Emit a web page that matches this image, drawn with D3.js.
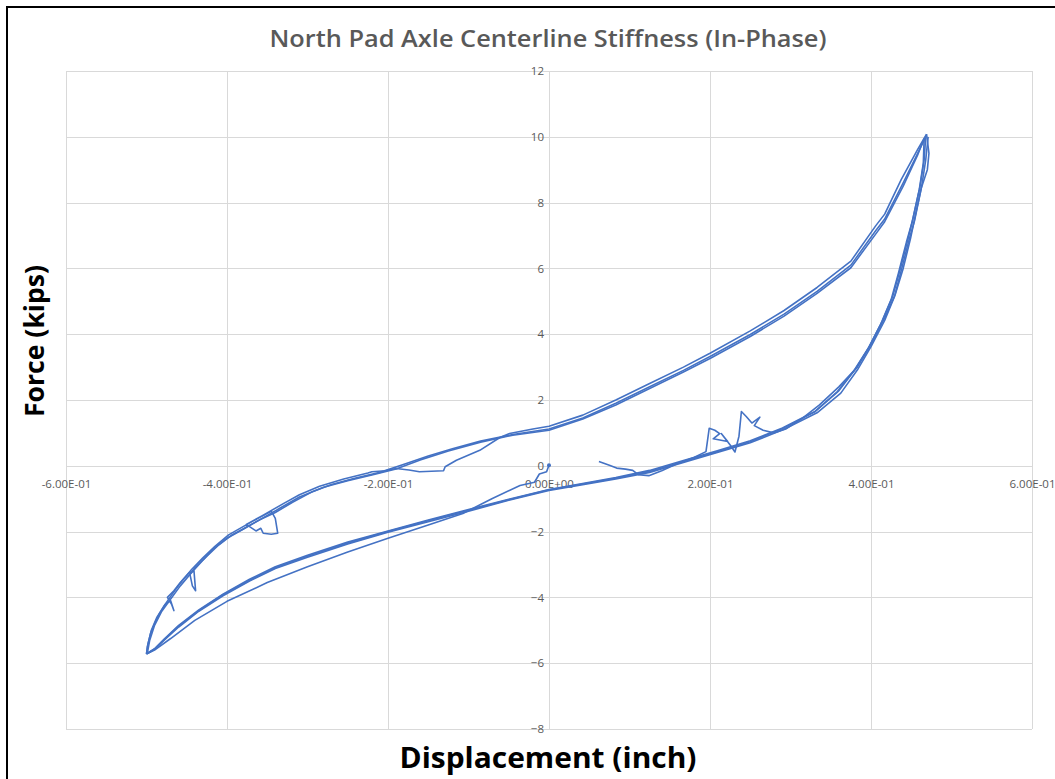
<!DOCTYPE html>
<html>
<head>
<meta charset="utf-8">
<script src="https://cdn.jsdelivr.net/npm/d3@7/dist/d3.min.js"></script>
<style>
  body { margin: 0; background: #fff; }
  .grid line { stroke: #d9d9d9; shape-rendering: crispEdges; }
  .grid path { display: none; }
  .ticks text { fill: #595959; font-family: "Open Sans", sans-serif; font-size: 11.5px; }
  .ticks path, .ticks line { display: none; }
</style>
</head>
<body>
<div id="chart"></div>
<script>
const xTicks = [-0.6, -0.4, -0.2, 0, 0.2, 0.4, 0.6];
const xTickLabels = ["-6.00E-01", "-4.00E-01", "-2.00E-01", "0.00E+00", "2.00E-01", "4.00E-01", "6.00E-01"];
const yTicks = [-8, -6, -4, -2, 0, 2, 4, 6, 8, 10, 12];

// each run is [displacement (inch), force (kips)]
const rightStart = [[0.062,0.13],[0.075,0.02],[0.084,-0.07],[0.095,-0.1],[0.104,-0.14],[0.111,-0.27],[0.124,-0.3],
  [0.14,-0.15],[0.159,0.06],[0.18,0.25],[0.195,0.43],[0.199,1.14],[0.206,1.08],[0.212,0.98],[0.204,0.82],[0.222,0.74],
  [0.214,0.98],[0.226,0.6],[0.231,0.42],[0.236,0.9],[0.239,1.65],[0.245,1.5],[0.252,1.3],[0.262,1.48],[0.255,1.22],
  [0.266,1.08],[0.279,1.0],[0.294,1.12],[0.315,1.45],[0.336,1.85],[0.36,2.4],[0.383,3.0],[0.4,3.7],[0.417,4.5],
  [0.43,5.2],[0.44,6.0],[0.449,6.9],[0.455,7.6],[0.463,8.5],[0.468,9.3],[0.471,10.0]];

const startPath = [[0,0.02],[-0.003,-0.18],[-0.012,-0.25],[-0.018,-0.5],[-0.036,-0.6],[-0.071,-1.0],[-0.107,-1.45],
  [-0.15,-1.8],[-0.2,-2.2],[-0.25,-2.62],[-0.3,-3.07],[-0.35,-3.55],[-0.4,-4.12],[-0.44,-4.7],[-0.47,-5.25],
  [-0.49,-5.6],[-0.5,-5.72]];

const loadOne = [[-0.5,-5.72],[-0.498,-5.4],[-0.494,-5.0],[-0.487,-4.6],[-0.478,-4.25],[-0.468,-3.9],[-0.456,-3.5],
  [-0.444,-3.15],[-0.43,-2.8],[-0.415,-2.45],[-0.398,-2.1],[-0.38,-1.85],[-0.362,-1.6],[-0.345,-1.38],[-0.34,-1.6],
  [-0.337,-2.05],[-0.345,-2.08],[-0.355,-2.05],[-0.358,-1.9],[-0.364,-1.98],[-0.372,-1.85],[-0.376,-1.78],
  [-0.355,-1.5],[-0.33,-1.15],[-0.31,-0.88],[-0.285,-0.62],[-0.255,-0.4],[-0.225,-0.22],[-0.22,-0.18],
  [-0.203,-0.15],[-0.19,-0.08],[-0.174,-0.13],[-0.161,-0.18],[-0.131,-0.15],[-0.129,-0.03],[-0.115,0.17],
  [-0.086,0.47],[-0.061,0.86],[-0.049,0.98],[-0.02,1.12],[0,1.2],[0.042,1.54],[0.083,2.0],[0.125,2.5],
  [0.167,3.0],[0.2,3.42],[0.25,4.1],[0.292,4.72],[0.333,5.42],[0.375,6.22],[0.406,7.3],[0.417,7.65],
  [0.4375,8.7],[0.458,9.62],[0.469,10.08]];

const unloadOne = [[0.469,10.08],[0.472,9.5],[0.47,9.0],[0.4625,8.44],[0.454,7.44],[0.448,6.93],[0.4375,5.93],
  [0.429,5.13],[0.417,4.42],[0.4,3.62],[0.383,2.91],[0.3625,2.21],[0.333,1.61],[0.292,1.11],[0.25,0.7],
  [0.208,0.4],[0.167,0.1],[0.125,-0.2],[0.083,-0.4],[0.04,-0.58],[0,-0.75],[-0.05,-1.05],[-0.1,-1.38],
  [-0.15,-1.7],[-0.2,-2.02],[-0.25,-2.38],[-0.3,-2.78],[-0.34,-3.12],[-0.372,-3.5],[-0.405,-3.95],
  [-0.435,-4.42],[-0.46,-4.9],[-0.478,-5.3],[-0.49,-5.58],[-0.5,-5.72]];

const loadTwo = [[-0.5,-5.72],[-0.499,-5.5],[-0.495,-5.1],[-0.49,-4.8],[-0.484,-4.5],[-0.477,-4.22],[-0.47,-4.1],
  [-0.466,-4.4],[-0.469,-4.2],[-0.474,-4.0],[-0.466,-3.8],[-0.458,-3.55],[-0.447,-3.25],[-0.441,-3.2],
  [-0.439,-3.8],[-0.443,-3.65],[-0.446,-3.3],[-0.44,-3.1],[-0.425,-2.75],[-0.41,-2.4],[-0.395,-2.12],
  [-0.38,-1.92],[-0.36,-1.65],[-0.34,-1.42],[-0.318,-1.1],[-0.295,-0.8],[-0.27,-0.57],[-0.24,-0.37],
  [-0.21,-0.2],[-0.18,0.05],[-0.15,0.3],[-0.12,0.52],[-0.085,0.75],[-0.045,0.95],[0,1.12],[0.042,1.45],
  [0.083,1.9],[0.125,2.4],[0.167,2.9],[0.2,3.32],[0.25,3.99],[0.292,4.61],[0.333,5.3],[0.375,6.1],
  [0.406,7.15],[0.417,7.5],[0.44,8.6],[0.458,9.5],[0.468,10.0]];

const unloadTwo = [[0.468,10.0],[0.466,9.3],[0.461,8.5],[0.452,7.5],[0.446,6.9],[0.436,5.95],[0.427,5.15],
  [0.414,4.4],[0.398,3.62],[0.381,2.95],[0.36,2.28],[0.331,1.66],[0.29,1.15],[0.25,0.76],[0.208,0.45],
  [0.167,0.16],[0.125,-0.14],[0.083,-0.36],[0.04,-0.55],[0,-0.72],[-0.05,-1.02],[-0.1,-1.33],[-0.15,-1.65],
  [-0.2,-1.98],[-0.25,-2.32],[-0.3,-2.72],[-0.34,-3.07],[-0.372,-3.45],[-0.405,-3.9],[-0.435,-4.38],
  [-0.46,-4.85],[-0.478,-5.27],[-0.49,-5.56],[-0.499,-5.7]];

const loadThree = [[-0.499,-5.7],[-0.496,-5.3],[-0.49,-4.85],[-0.481,-4.42],[-0.47,-4.05],[-0.458,-3.65],
  [-0.446,-3.3],[-0.432,-2.92],[-0.418,-2.55],[-0.4,-2.2],[-0.38,-1.93],[-0.358,-1.62],[-0.335,-1.3],
  [-0.31,-0.95],[-0.28,-0.65],[-0.25,-0.45],[-0.22,-0.28],[-0.19,-0.1],[-0.16,0.18],[-0.125,0.45],
  [-0.085,0.72],[-0.045,0.93],[0,1.08],[0.042,1.42],[0.083,1.85],[0.125,2.35],[0.167,2.85],[0.2,3.26],
  [0.25,3.93],[0.292,4.55],[0.333,5.24],[0.375,6.02],[0.406,7.05],[0.417,7.42],[0.44,8.5],[0.458,9.45],
  [0.466,9.95]];

const unloadThree = [[0.466,9.95],[0.465,9.2],[0.46,8.4],[0.451,7.4],[0.444,6.8],[0.434,5.85],[0.425,5.05],
  [0.412,4.3],[0.396,3.55],[0.379,2.9],[0.358,2.25],[0.33,1.64],[0.29,1.13],[0.25,0.73],[0.208,0.42],
  [0.167,0.13],[0.125,-0.17],[0.083,-0.38],[0.04,-0.56],[0,-0.73],[-0.05,-1.03],[-0.1,-1.35],[-0.15,-1.67],
  [-0.2,-2.0],[-0.25,-2.35],[-0.3,-2.75],[-0.34,-3.1],[-0.372,-3.48],[-0.405,-3.92],[-0.435,-4.4],
  [-0.46,-4.87],[-0.478,-5.28],[-0.49,-5.57],[-0.5,-5.71]];

const runs = [rightStart, startPath, loadOne, unloadOne, loadTwo, unloadTwo, loadThree, unloadThree];

const width = 1055, height = 779;
const plot = { left: 66, right: 1032, top: 71, bottom: 729 };

const svg = d3.select("#chart").append("svg")
  .attr("width", width)
  .attr("height", height);

const x = d3.scaleLinear().domain([-0.6, 0.6]).range([plot.left, plot.right]);
const y = d3.scaleLinear().domain([-8, 12]).range([plot.bottom, plot.top]);

// frame around the picture
svg.append("rect")
  .attr("x", 7).attr("y", 7)
  .attr("width", 1200).attr("height", 900)
  .attr("fill", "none")
  .attr("stroke", "#000")
  .attr("stroke-width", 2);

// gridlines
svg.append("g")
  .attr("class", "grid")
  .attr("transform", `translate(0,${plot.bottom})`)
  .call(d3.axisBottom(x).tickValues(xTicks).tickSize(-(plot.bottom - plot.top)).tickFormat(""));

svg.append("g")
  .attr("class", "grid")
  .attr("transform", `translate(${plot.left},0)`)
  .call(d3.axisLeft(y).tickValues(yTicks).tickSize(-(plot.right - plot.left)).tickFormat(""));

// tick labels hang off the axes that cross at the origin
svg.append("g")
  .attr("class", "ticks")
  .attr("transform", `translate(0,${y(0)})`)
  .call(d3.axisBottom(x).tickValues(xTicks).tickSize(0).tickPadding(14)
    .tickFormat((d, i) => xTickLabels[i]));

svg.append("g")
  .attr("class", "ticks")
  .attr("transform", `translate(${x(0)},0)`)
  .call(d3.axisLeft(y).tickValues(yTicks).tickSize(0).tickPadding(5));

// the hysteresis record
const line = d3.line()
  .x(d => x(d[0]))
  .y(d => y(d[1]));

svg.append("g")
  .selectAll("path")
  .data(runs)
  .enter()
  .append("path")
  .attr("d", line)
  .attr("fill", "none")
  .attr("stroke", "#4472c4")
  .attr("stroke-width", 1.6)
  .attr("stroke-linejoin", "round");

svg.append("circle")
  .attr("cx", x(0)).attr("cy", y(0.02))
  .attr("r", 2)
  .attr("fill", "#4472c4");

// titles
svg.append("text")
  .attr("x", 548).attr("y", 47)
  .attr("text-anchor", "middle")
  .attr("fill", "#595959")
  .attr("textLength", 557)
  .attr("lengthAdjust", "spacingAndGlyphs")
  .style("font-family", "'Open Sans', sans-serif")
  .style("font-weight", 600)
  .style("font-size", "24px")
  .text("North Pad Axle Centerline Stiffness (In-Phase)");

svg.append("text")
  .attr("x", 548).attr("y", 768)
  .attr("text-anchor", "middle")
  .attr("fill", "#000")
  .attr("textLength", 297)
  .attr("lengthAdjust", "spacingAndGlyphs")
  .style("font-family", "'Open Sans', sans-serif")
  .style("font-weight", 700)
  .style("font-size", "28px")
  .text("Displacement (inch)");

svg.append("text")
  .attr("transform", "translate(44,341) rotate(-90)")
  .attr("text-anchor", "middle")
  .attr("fill", "#000")
  .attr("textLength", 152)
  .attr("lengthAdjust", "spacingAndGlyphs")
  .style("font-family", "'Open Sans', sans-serif")
  .style("font-weight", 700)
  .style("font-size", "26px")
  .text("Force (kips)");
</script>
</body>
</html>
